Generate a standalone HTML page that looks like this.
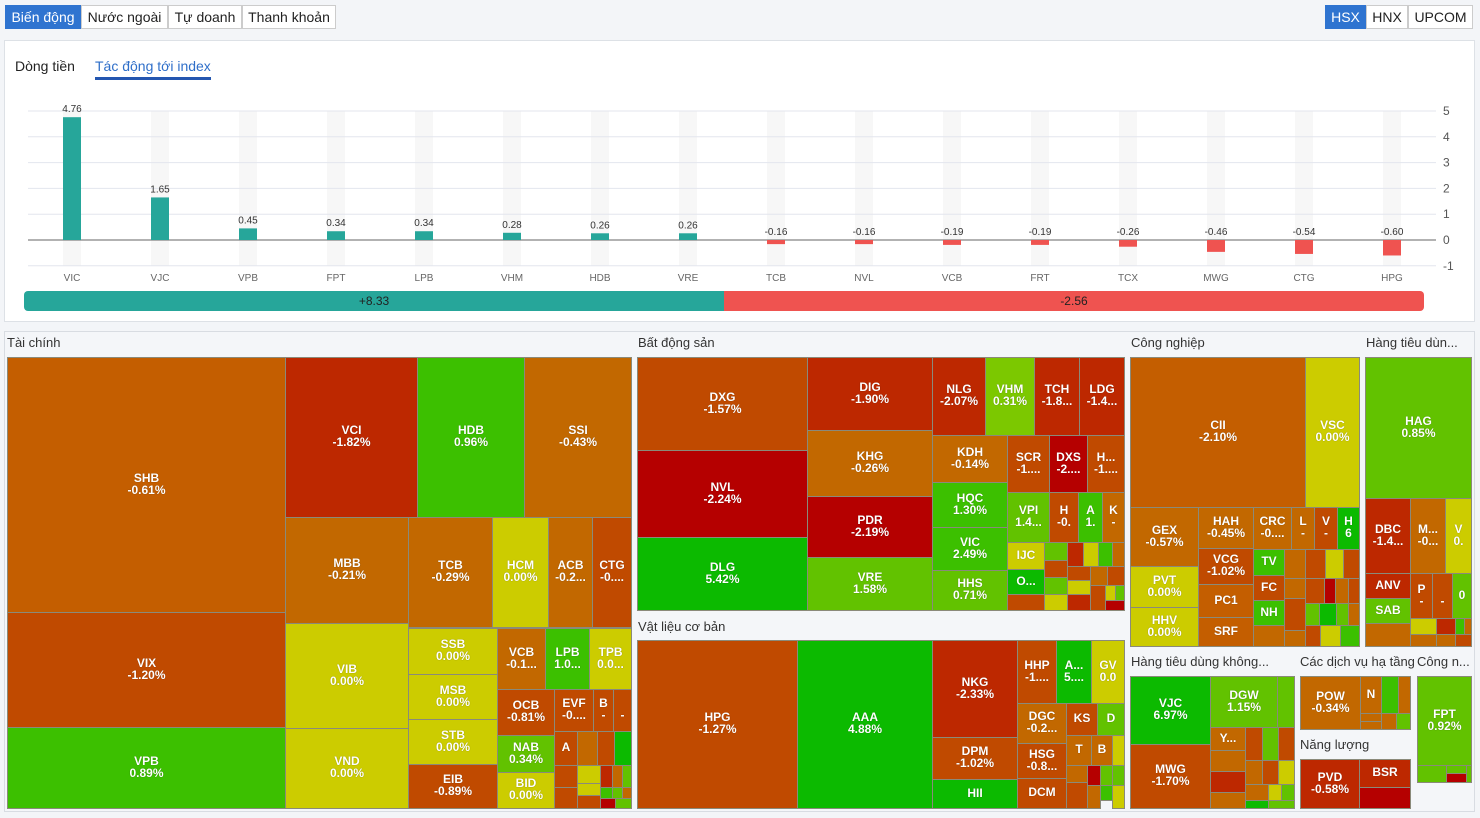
<!DOCTYPE html>
<html><head><meta charset="utf-8">
<style>
*{box-sizing:border-box;margin:0;padding:0}
body{width:1480px;height:818px;background:#f3f5f8;font-family:"Liberation Sans","Noto Sans CJK SC",sans-serif;position:relative;overflow:hidden}
.btn{position:absolute;top:5px;height:24px;border:1px solid #ccc;background:#fff;font-size:14px;line-height:22px;text-align:center;color:#222}
.btn.on{background:#2f74d0;color:#fff;border-color:#2f74d0}
#card{position:absolute;left:4px;top:40px;width:1471px;height:282px;background:#fff;border:1px solid #dde1e6}
#tm{position:absolute;left:4px;top:331px;width:1471px;height:481px;background:#f4f6f9;border:1px solid #d8dce2}
.hd{position:absolute;font-size:13px;color:#333}
.t{position:absolute;border:1px solid #8a8a7a;color:#fff;font-weight:bold;font-size:12px;line-height:12px;display:flex;align-items:center;justify-content:center;text-align:center;overflow:hidden;text-shadow:0 0 1px rgba(0,0,0,.4);padding-bottom:3px}
</style></head><body>
<div class="btn on" style="left:5px;width:76px">Biến động</div>
<div class="btn" style="left:81px;width:87px">Nước ngoài</div>
<div class="btn" style="left:168px;width:74px">Tự doanh</div>
<div class="btn" style="left:242px;width:94px">Thanh khoản</div>
<div class="btn on" style="left:1325px;width:41px">HSX</div>
<div class="btn" style="left:1366px;width:42px">HNX</div>
<div class="btn" style="left:1408px;width:65px">UPCOM</div>

<div id="card">
<div style="position:absolute;left:10px;top:17px;font-size:14px;color:#222">Dòng tiền</div>
<div style="position:absolute;left:90px;top:17px;font-size:14px;color:#2f6fc9;border-bottom:3px solid #2456b0;padding-bottom:3px">Tác động tới index</div>
</div>
<svg id="chart" width="1480" height="330" style="position:absolute;left:0;top:0"></svg>

<div id="tm"></div>

<script>
const categories=["VIC","VJC","VPB","FPT","LPB","VHM","HDB","VRE","TCB","NVL","VCB","FRT","TCX","MWG","CTG","HPG"];
const values=[4.76,1.65,0.45,0.34,0.34,0.28,0.26,0.26,-0.16,-0.16,-0.19,-0.19,-0.26,-0.46,-0.54,-0.60];
const yTicks=[5,4,3,2,1,0,-1];
const totals=[8.33,-2.56];
const NS="http://www.w3.org/2000/svg";
const svg=document.getElementById('chart');
const x0=28,band=88,zeroY=240,unit=25.8;
const xs=i=>x0+band*i+band/2;
const ys=v=>zeroY-v*unit;
function mk(t,a){const e=document.createElementNS(NS,t);for(const k in a)e.setAttribute(k,a[k]);svg.appendChild(e);return e;}
yTicks.forEach(v=>{
 const l=mk('line',{x1:28,x2:1436,y1:ys(v),y2:ys(v),stroke:v===0?'#666':'#e3e6ee','stroke-width':1});
 
 
 const t=mk('text',{x:1443,y:ys(v)+4,'font-size':12,fill:'#555','font-family':'Liberation Sans'});t.textContent=v;
 
 
});
categories.forEach((c,i)=>{
 const cx=xs(i),v=values[i];
 const bg=mk('rect',{x:cx-9,y:ys(5),width:18,height:ys(-1)-ys(5),fill:'#f7f7f7'});
 
 
 svg.insertBefore(bg,svg.firstChild);
 const top=Math.min(ys(v),zeroY),h=Math.abs(ys(v)-zeroY);
 const b=mk('rect',{x:cx-9,y:top,width:18,height:h,fill:v>=0?'#26a69a':'#ef5350'});
 
 
 const lt=mk('text',{x:cx,y:(v>=0?ys(v):zeroY)-5,'font-size':10,fill:'#333','text-anchor':'middle','font-family':'Liberation Sans'});
 lt.textContent=v.toFixed(2);
 
 
 const xl=mk('text',{x:cx,y:281,'font-size':10,fill:'#666','text-anchor':'middle','font-family':'Liberation Sans'});
 xl.textContent=c;
 
 
});
const bx=24,bw=1400;
const split=bx+bw/2;
const r1=mk('rect',{x:bx,y:291,width:split-bx+6,height:20,rx:4,fill:'#26a69a'});


const r2=mk('rect',{x:split,y:291,width:bx+bw-split,height:20,rx:4,fill:'#ef5350'});


mk('rect',{x:split,y:291,width:6,height:20,fill:'#ef5350'});
const p1=mk('text',{x:(bx+split)/2,y:305,'font-size':12,fill:'#222','text-anchor':'middle','font-family':'Liberation Sans'});p1.textContent='+'+totals[0].toFixed(2);


const p2=mk('text',{x:(split+bx+bw)/2,y:305,'font-size':12,fill:'#222','text-anchor':'middle','font-family':'Liberation Sans'});p2.textContent=totals[1].toFixed(2);



/* treemap */
const C={o:'#c26800',o2:'#c45e00',r1:'#c04a00',r2:'#bd2800',r3:'#b50000',y:'#cccc00',g1:'#62c200',g2:'#3cc000',g3:'#0cba00',g0:'#7cc800'};
const headers=[[2,3,'Tài chính'],[633,3,'Bất động sản'],[1126,3,'Công nghiệp'],[1361,3,'Hàng tiêu dùn...'],[633,287,'Vật liệu cơ bản'],[1126,322,'Hàng tiêu dùng không...'],[1295,322,'Các dịch vụ hạ tầng'],[1412,322,'Công n...'],[1295,405,'Năng lượng']];
const tiles=[
[7,357,285,612,'o2','SHB','-0.61%'],[7,612,285,727,'r1','VIX','-1.20%'],[7,727,285,808,'g2','VPB','0.89%'],
[285,357,417,517,'r2','VCI','-1.82%'],[417,357,524,517,'g2','HDB','0.96%'],[524,357,631,517,'o','SSI','-0.43%'],
[285,517,408,623,'o','MBB','-0.21%'],[285,623,408,728,'y','VIB','0.00%'],[285,728,408,808,'y','VND','0.00%'],
[408,517,492,627,'o','TCB','-0.29%'],[492,517,548,627,'y','HCM','0.00%'],[548,517,592,627,'o','ACB','-0.2...'],[592,517,631,627,'r1','CTG','-0....'],
[408,628,497,674,'y','SSB','0.00%'],[408,674,497,719,'y','MSB','0.00%'],[408,719,497,764,'y','STB','0.00%'],[408,764,497,808,'r1','EIB','-0.89%'],
[497,628,545,689,'o','VCB','-0.1...'],[545,628,589,689,'g2','LPB','1.0...'],[589,628,631,689,'y','TPB','0.0...'],
[497,689,554,735,'r1','OCB','-0.81%'],[554,689,593,731,'r1','EVF','-0....'],[593,689,613,731,'r1','B','-'],[613,689,631,731,'r1','','-'],
[497,735,554,772,'g1','NAB','0.34%'],[497,772,554,808,'y','BID','0.00%'],
[554,731,577,765,'r1','A',''],[577,731,597,765,'o',''],[597,731,614,765,'r1',''],[614,731,631,765,'g3',''],
[554,765,577,787,'r1',''],[577,765,600,783,'y',''],[577,783,600,795,'y',''],[554,787,577,808,'r1',''],[577,795,600,808,'r1',''],
[600,765,612,787,'r2',''],[612,765,622,787,'o',''],[622,765,631,787,'g1',''],[600,787,612,798,'g2',''],[612,787,622,798,'g1',''],[622,787,631,798,'o',''],[600,798,615,808,'r3',''],[615,798,631,808,'g1',''],
[637,357,807,450,'r1','DXG','-1.57%'],[637,450,807,537,'r3','NVL','-2.24%'],[637,537,807,610,'g3','DLG','5.42%'],
[807,357,932,430,'r2','DIG','-1.90%'],[807,430,932,496,'o','KHG','-0.26%'],[807,496,932,557,'r3','PDR','-2.19%'],[807,557,932,610,'g1','VRE','1.58%'],
[932,357,985,435,'r2','NLG','-2.07%'],[985,357,1034,435,'g0','VHM','0.31%'],[1034,357,1079,435,'r2','TCH','-1.8...'],[1079,357,1124,435,'r2','LDG','-1.4...'],
[932,435,1007,482,'o','KDH','-0.14%'],[1007,435,1049,492,'r1','SCR','-1....'],[1049,435,1087,492,'r3','DXS','-2....'],[1087,435,1124,492,'r1','H...','-1....'],
[932,482,1007,527,'g2','HQC','1.30%'],[932,527,1007,570,'g2','VIC','2.49%'],[932,570,1007,610,'g1','HHS','0.71%'],
[1007,492,1049,542,'g1','VPI','1.4...'],[1049,492,1078,542,'r1','H','-0.'],[1078,492,1102,542,'g2','A','1.'],[1102,492,1124,542,'o','K','-'],
[1007,542,1044,569,'y','IJC',''],[1007,569,1044,594,'g3','O...',''],[1007,594,1044,610,'r1',''],
[1044,542,1067,560,'g1',''],[1067,542,1083,566,'r2',''],[1083,542,1098,566,'y',''],[1098,542,1112,566,'g2',''],[1112,542,1124,566,'o',''],
[1044,560,1067,577,'r1',''],[1044,577,1067,594,'g1',''],[1044,594,1067,610,'y',''],[1067,566,1090,580,'r1',''],[1067,580,1090,594,'y',''],[1090,566,1107,585,'o',''],[1107,566,1124,585,'r1',''],
[1067,594,1090,610,'r2',''],[1090,585,1105,610,'r1',''],[1105,585,1115,600,'y',''],[1115,585,1124,600,'g1',''],[1105,600,1124,610,'r3',''],
[637,640,797,808,'r1','HPG','-1.27%'],[797,640,932,808,'g3','AAA','4.88%'],
[932,640,1017,737,'r2','NKG','-2.33%'],[932,737,1017,779,'r1','DPM','-1.02%'],[932,779,1017,808,'g3','HII',''],
[1017,640,1056,703,'r1','HHP','-1....'],[1056,640,1091,703,'g3','A...','5....'],[1091,640,1124,703,'y','GV','0.0'],
[1017,703,1066,743,'o','DGC','-0.2...'],[1017,743,1066,778,'r1','HSG','-0.8...'],[1017,778,1066,808,'r1','DCM',''],
[1066,703,1097,735,'r1','KS',''],[1097,703,1124,735,'g1','D',''],[1066,735,1091,765,'o','T',''],[1091,735,1112,765,'o','B',''],[1112,735,1124,765,'y',''],
[1066,765,1087,782,'o',''],[1087,765,1100,785,'r3',''],[1100,765,1112,785,'g1',''],[1112,765,1124,785,'g1',''],[1066,782,1087,808,'r1',''],[1087,785,1100,808,'o',''],[1100,785,1112,800,'g2',''],[1112,785,1124,808,'y',''],
[1130,357,1305,507,'o2','CII','-2.10%'],[1305,357,1359,507,'y','VSC','0.00%'],
[1130,507,1198,566,'o','GEX','-0.57%'],[1130,566,1198,607,'y','PVT','0.00%'],[1130,607,1198,646,'y','HHV','0.00%'],
[1198,507,1253,548,'o','HAH','-0.45%'],[1198,548,1253,584,'r1','VCG','-1.02%'],[1198,584,1253,617,'o2','PC1',''],[1198,617,1253,646,'o2','SRF',''],
[1253,507,1291,549,'o','CRC','-0....'],[1291,507,1314,549,'o','L','-'],[1314,507,1337,549,'r1','V','-'],[1337,507,1359,549,'g3','H','6'],
[1253,549,1284,575,'g2','TV',''],[1253,575,1284,600,'r1','FC',''],[1253,600,1284,625,'g2','NH',''],[1253,625,1284,646,'o',''],
[1284,549,1305,578,'o',''],[1305,549,1325,578,'r1',''],[1325,549,1343,578,'y',''],[1343,549,1359,578,'r1',''],
[1284,578,1305,598,'o',''],[1284,598,1305,630,'r1',''],[1284,630,1305,646,'o',''],[1305,578,1324,603,'r1',''],[1324,578,1335,603,'r3',''],[1335,578,1348,603,'o',''],[1348,578,1359,603,'r1',''],
[1305,603,1319,625,'g1',''],[1319,603,1336,625,'g3',''],[1336,603,1348,625,'g1',''],[1348,603,1359,625,'o',''],[1305,625,1320,646,'r1',''],[1320,625,1340,646,'y',''],[1340,625,1359,646,'g2',''],
[1365,357,1471,498,'g1','HAG','0.85%'],[1365,498,1410,573,'r2','DBC','-1.4...'],[1410,498,1445,573,'o','M...','-0...'],[1445,498,1471,573,'y','V','0.'],
[1365,573,1410,598,'r2','ANV',''],[1365,598,1410,623,'g1','SAB',''],[1365,623,1410,646,'o',''],
[1410,573,1432,618,'r1','P','-'],[1432,573,1452,618,'r1','','-'],[1452,573,1471,618,'g1','0',''],
[1410,618,1436,634,'y',''],[1436,618,1455,634,'r2',''],[1455,618,1464,634,'g2',''],[1464,618,1471,634,'o',''],[1410,634,1436,646,'o',''],[1436,634,1455,646,'o',''],[1455,634,1471,646,'r1',''],
[1130,676,1210,744,'g3','VJC','6.97%'],[1130,744,1210,808,'r1','MWG','-1.70%'],[1210,676,1277,727,'g1','DGW','1.15%'],[1277,676,1294,727,'g1',''],
[1210,727,1245,750,'o','Y...',''],[1210,750,1245,771,'o',''],[1210,771,1245,792,'r2',''],[1210,792,1245,808,'o',''],
[1245,727,1262,760,'r1',''],[1262,727,1278,760,'g1',''],[1278,727,1294,760,'r1',''],[1245,760,1262,784,'o',''],[1262,760,1278,784,'r1',''],[1278,760,1294,784,'y',''],
[1245,784,1268,800,'o',''],[1268,784,1281,800,'y',''],[1281,784,1294,800,'g1',''],[1245,800,1268,808,'g3',''],[1268,800,1294,808,'g1',''],
[1300,676,1360,729,'o','POW','-0.34%'],[1360,676,1381,713,'o','N',''],[1381,676,1398,713,'g2',''],[1398,676,1410,713,'o',''],
[1360,713,1381,721,'o',''],[1360,721,1381,729,'o',''],[1381,713,1396,729,'o',''],[1396,713,1410,729,'g1',''],
[1300,759,1359,808,'r2','PVD','-0.58%'],[1359,759,1410,787,'r2','BSR',''],[1359,787,1410,808,'r3',''],
[1417,676,1471,765,'g1','FPT','0.92%'],[1417,765,1446,782,'g1',''],[1446,765,1466,773,'g1',''],[1446,773,1466,782,'r3',''],[1466,765,1471,782,'g1','']
];
const tm=document.getElementById('tm');
headers.forEach(h=>{
 const d=document.createElement('div');d.className='hd';
 d.style.left=h[0]+'px';d.style.top=h[1]+'px';d.textContent=h[2];
 
 
 tm.appendChild(d);
});
tiles.forEach(t=>{
 const d=document.createElement('div');d.className='t';
 d.style.left=(t[0]-5)+'px';d.style.top=(t[1]-332)+'px';
 d.style.width=(t[2]-t[0]+1)+'px';d.style.height=(t[3]-t[1]+1)+'px';
 d.style.background=C[t[4]];
 d.innerHTML=(t[5]||'')+(t[6]?'<br>'+t[6]:'');
 
 
 tm.appendChild(d);
});
</script>
</body></html>
